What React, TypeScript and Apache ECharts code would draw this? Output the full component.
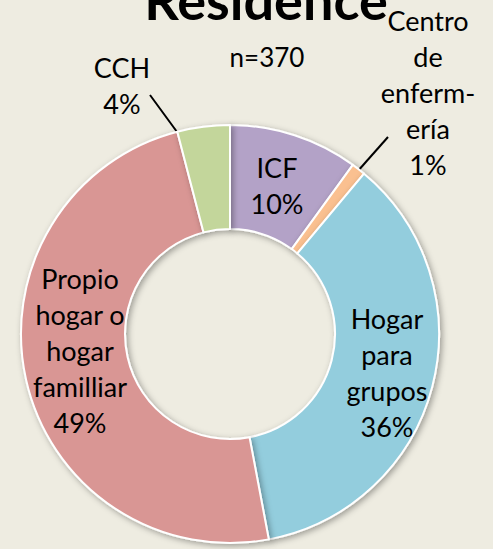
import React, { useEffect, useRef } from "react";
import * as echarts from "echarts";

const categories = ["ICF", "Centro de enfermería", "Hogar para grupos", "Propio hogar o hogar familliar", "CCH"];
const labelTexts = ["ICF", "Centro\nde\nenferm-\nería", "Hogar\npara\ngrupos", "Propio\nhogar o\nhogar\nfamilliar", "CCH"];
const counts = [37, 4, 133, 181, 15];
const colors = ["#b3a2c7", "#fac090", "#93cddd", "#d99694", "#c3d69b"];
const titleText = "Residence";
const subText = "n=370";

// label placement (center of text block) and leader line endpoints
const labelPos: [number, number][] = [
  [277, 185],
  [428, 92],
  [387, 372],
  [80, 350],
  [122, 85],
];
const leaderLines: ([number, number][] | null)[] = [
  null,
  [[388, 137], [357, 172], [326, 207]],
  null,
  null,
  [[150, 95], [180, 136], [209, 177]],
];

export default function App() {
  const ref = useRef<HTMLDivElement>(null);
  useEffect(() => {
    if (!ref.current) return;
    const chart = echarts.init(ref.current, null, { renderer: "svg" });
    const font = "Lato, 'Open Sans', sans-serif";
    chart.setOption({
      animation: false,
      backgroundColor: "#eeece1",
      title: [
        {
          text: titleText,
          left: 261,
          top: -33,
          textAlign: "center",
          textStyle: { fontFamily: font, fontSize: 54, fontWeight: "bold", color: "#000" },
        },
        {
          text: subText,
          left: 262,
          top: 39,
          textAlign: "center",
          textStyle: { fontFamily: font, fontSize: 26, fontWeight: "normal", color: "#000" },
        },
      ],
      series: [
        {
          type: "pie",
          center: [230, 334],
          radius: [105, 209],
          startAngle: 90,
          clockwise: true,
          avoidLabelOverlap: false,
          itemStyle: {
            borderColor: "#ffffff",
            borderWidth: 2,
            shadowBlur: 6,
            shadowColor: "rgba(0,0,0,0.35)",
            shadowOffsetX: 2,
            shadowOffsetY: 2,
          },
          label: {
            show: true,
            position: "inside",
            fontFamily: font,
            fontSize: 27,
            lineHeight: 36,
            color: "#000",
            align: "center",
            formatter: (p: any) => labelTexts[p.dataIndex] + "\n" + Math.round(p.percent) + "%",
          },
          labelLine: { show: false },
          labelLayout: (p: any) => {
            const pos = labelPos[p.dataIndex];
            const r: any = { x: pos[0], y: pos[1], align: "center", verticalAlign: "middle" };
            const ll = leaderLines[p.dataIndex];
            if (ll) r.labelLinePoints = ll;
            return r;
          },
          data: counts.map((v, i) => {
            const d: any = { value: v, name: categories[i], itemStyle: { color: colors[i] } };
            if (leaderLines[i]) {
              d.label = { position: "outside" };
              d.labelLine = { show: true, lineStyle: { color: "#000", width: 2 } };
            }
            return d;
          }),
        },
      ],
    });
    return () => chart.dispose();
  }, []);
  return <div ref={ref} style={{ position: "fixed", left: 0, top: 0, width: 493, height: 549 }} />;
}
